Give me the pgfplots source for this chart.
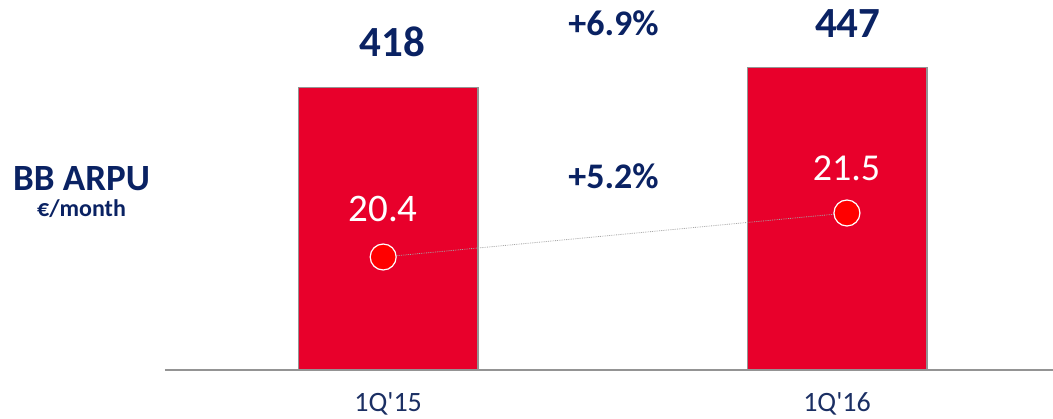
\documentclass[border=0pt]{standalone}
\usepackage{fontspec}
\setmainfont{Carlito}
\newfontfamily\tfont{Carlito}
\usepackage{pgfplots}
\pgfplotsset{compat=1.18}
\definecolor{barred}{HTML}{E8002B}
\definecolor{dotred}{HTML}{FF0000}
\definecolor{navy}{HTML}{0A2263}
\definecolor{ticknavy}{HTML}{1B2F63}
\definecolor{edgegray}{HTML}{949494}
\begin{document}
\begin{tikzpicture}[every node/.style={inner sep=0pt}]
\useasboundingbox (-165pt,-48pt) rectangle (888pt,370pt);
\begin{axis}[
  scale only axis, width=888pt, height=370pt,
  xmin=-0.497, xmax=1.481, ymin=0, ymax=547,
  axis x line=bottom, axis y line=none,
  axis line style={edgegray, line width=1.2pt, -},
  xtick={0,1}, xticklabels={1Q'15,1Q'16},
  xtick style={draw=none},
  xticklabel style={anchor=base, yshift=-39pt, font=\tfont\fontsize{28}{30}\selectfont, text=ticknavy, inner sep=0pt},
  clip=false,
]
\addplot[ybar, bar width=0.4, fill=barred, draw=edgegray, line width=1.3pt] coordinates {(0,418) (1,447)};
\node[anchor=base, text=navy, font=\bfseries\fontsize{43}{45}\selectfont] at (axis cs:0.009,463) {418};
\node[anchor=base, text=navy, font=\bfseries\fontsize{43}{45}\selectfont] at (axis cs:1.024,491) {447};
\node[anchor=base, text=navy, font=\bfseries\fontsize{36}{38}\selectfont] at (axis cs:0.502,494) {+6.9\%};
\node[anchor=base, text=navy, font=\bfseries\fontsize{36}{38}\selectfont] at (axis cs:0.502,269) {+5.2\%};
\node[anchor=base, text=white, font=\fontsize{39}{41}\selectfont] at (axis cs:-0.011,219) {20.4};
\node[anchor=base, text=white, font=\fontsize{38}{40}\selectfont] at (axis cs:1.021,279.6) {21.5};
\node[anchor=base, text=navy, font=\bfseries\fontsize{37}{39}\selectfont] at (axis cs:-0.683,266) {BB ARPU};
\node[anchor=base, text=navy, font=\bfseries\fontsize{24}{26}\selectfont] at (axis cs:-0.683,227) {€/month};
\end{axis}
\begin{axis}[
  scale only axis, width=888pt, height=370pt,
  xmin=-0.497, xmax=1.481, ymin=17.575, ymax=26.825,
  axis lines=none, clip=false,
]
\addplot[gray!70, line width=0.8pt, densely dotted, mark=*, mark size=13pt,
  mark options={solid, fill=dotred, draw=white, line width=1.2pt}]
  coordinates {(-0.011,20.4) (1.022,21.5)};
\end{axis}
\end{tikzpicture}
\end{document}
